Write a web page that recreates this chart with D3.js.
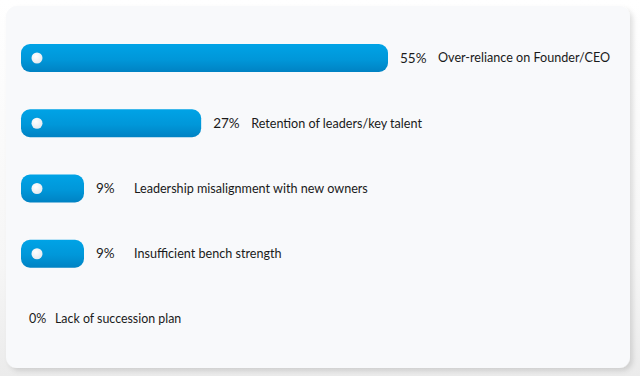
<!DOCTYPE html>
<html><head><meta charset="utf-8">
<script src="https://cdn.jsdelivr.net/npm/d3@7"></script>
<style>html,body{margin:0;padding:0;background:#fff;}svg{display:block;}</style>
</head><body>
<script>
const categories = ["Over-reliance on Founder/CEO", "Retention of leaders/key talent", "Leadership misalignment with new owners", "Insufficient bench strength", "Lack of succession plan"];
const values = [55, 27, 9, 9, 0];
const valueLabels = ["55%", "27%", "9%", "9%", "0%"];

const W = 640, H = 376;
const svg = d3.select("body").append("svg").attr("width", W).attr("height", H);
const defs = svg.append("defs");
const bg = defs.append("linearGradient").attr("id","bgGrad").attr("x1",0).attr("y1",0).attr("x2",0).attr("y2",1);
bg.append("stop").attr("offset","0%").attr("stop-color","#ffffff");
bg.append("stop").attr("offset","70%").attr("stop-color","#f6f6f6");
bg.append("stop").attr("offset","100%").attr("stop-color","#ebebeb");
const g = defs.append("linearGradient").attr("id","barGrad").attr("x1",0).attr("y1",0).attr("x2",0).attr("y2",1);
g.append("stop").attr("offset","0%").attr("stop-color","#00a3e6");
g.append("stop").attr("offset","55%").attr("stop-color","#0097d9");
g.append("stop").attr("offset","100%").attr("stop-color","#0082c3");
const f = defs.append("filter").attr("id","shadow").attr("x","-5%").attr("y","-5%").attr("width","115%").attr("height","115%");
f.append("feDropShadow").attr("dx",3).attr("dy",3).attr("stdDeviation",2.5).attr("flood-color","#000").attr("flood-opacity",0.12);
const dotG = defs.append("radialGradient").attr("id","dotGrad").attr("cx","40%").attr("cy","35%").attr("r","70%");
dotG.append("stop").attr("offset","0%").attr("stop-color","#ffffff");
dotG.append("stop").attr("offset","100%").attr("stop-color","#e4e8ee");

svg.append("rect").attr("width",W).attr("height",H).attr("fill","url(#bgGrad)");
svg.append("rect").attr("x",6).attr("y",6).attr("width",624).attr("height",362).attr("rx",11)
  .attr("fill","#f8f9fb").attr("filter","url(#shadow)");

const x0 = 21;
const x = d3.scaleLinear().domain([0, 55]).range([0, 367]);
const y = d3.scalePoint().domain(categories).range([58, 319]);
const barH = 28;
const font = "Lato, 'Open Sans', sans-serif";

const rows = svg.selectAll("g.row").data(categories.map((c,i)=>({c, v:values[i], l:valueLabels[i]})))
  .enter().append("g").attr("class","row");

rows.filter(d=>d.v>0).append("rect")
  .attr("x", x0).attr("y", d=>y(d.c)-barH/2)
  .attr("width", d=>Math.max(x(d.v), 63)).attr("height", barH)
  .attr("rx", 9).attr("fill","url(#barGrad)");
rows.filter(d=>d.v>0).append("circle")
  .attr("cx", x0+16).attr("cy", d=>y(d.c)).attr("r", 5.5).attr("fill","url(#dotGrad)");

const endX = d => x0 + Math.max(x(d.v), 63);
rows.append("text")
  .attr("x", d=> d.v>0 ? endX(d) + 12 : 29)
  .attr("y", d=>y(d.c)).attr("dy","0.35em")
  .attr("font-family", font).attr("font-size", d=> d.v>0 ? 13.5 : 12.5)
  .attr("fill","#1a1a1a").text(d=>d.l);
rows.append("text")
  .attr("x", d=> d.v>0 ? endX(d) + 50 : 55)
  .attr("y", d=>y(d.c)).attr("dy","0.35em")
  .attr("font-family", font).attr("font-size", d=> d.v>0 ? 12.6 : 12.4)
  .attr("fill","#1a1a1a").text(d=>d.c);
</script>
</body></html>
